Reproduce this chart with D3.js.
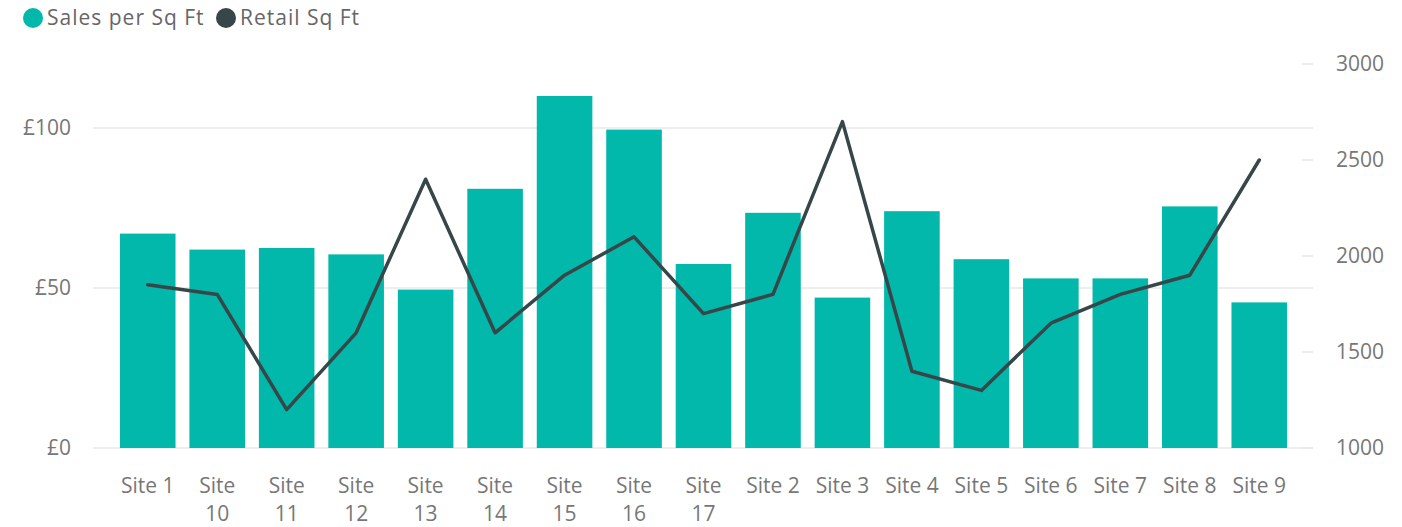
<!doctype html>
<html>
<head>
<meta charset="utf-8">
<style>
    body { margin: 0; background: #fff; }
    text { font-family: "Open Sans", "DejaVu Sans", sans-serif; }
    .bar { fill: #01B8AA; }
</style>
<script src="https://d3js.org/d3.v7.min.js"></script>
</head>
<body>
<svg width="1402" height="527"></svg>
<script>
    // data
    var sites = ["Site 1", "Site 10", "Site 11", "Site 12", "Site 13", "Site 14", "Site 15", "Site 16",
                 "Site 17", "Site 2", "Site 3", "Site 4", "Site 5", "Site 6", "Site 7", "Site 8", "Site 9"];
    var salesPerSqFt = [67, 62, 62.5, 60.5, 49.5, 81, 110, 99.5, 57.5, 73.5, 47, 74, 59, 53, 53, 75.5, 45.5];
    var retailSqFt = [1850, 1800, 1200, 1600, 2400, 1600, 1900, 2100, 1700, 1800, 2700, 1400, 1300, 1650, 1800, 1900, 2500];
    var leftTicks = [0, 50, 100];
    var rightTicks = [1000, 1500, 2000, 2500, 3000];
    var seriesNames = ["Sales per Sq Ft", "Retail Sq Ft"];
    var seriesColors = ["#01B8AA", "#374649"];

    var svg = d3.select("svg");
    var fontSize = 21;

    var x = d3.scaleBand().domain(sites).range([113, 1294]).paddingInner(0.2).paddingOuter(0.1);
    var yL = d3.scaleLinear().domain([0, 120]).range([448, 64]);
    var yR = d3.scaleLinear().domain([1000, 3000]).range([448, 64]);

    // gridlines for left axis
    svg.append("g").selectAll("line")
        .data(leftTicks)
        .enter().append("line")
        .attr("x1", 93).attr("x2", 1313)
        .attr("y1", function(d) { return yL(d); })
        .attr("y2", function(d) { return yL(d); })
        .attr("stroke", "#e8e8e8")
        .attr("stroke-width", 1.6);

    // left axis labels
    svg.append("g").selectAll("text")
        .data(leftTicks)
        .enter().append("text")
        .attr("x", 71)
        .attr("y", function(d) { return yL(d); })
        .attr("dy", "0.35em")
        .attr("text-anchor", "end")
        .attr("font-size", fontSize)
        .attr("fill", "#777")
        .text(function(d) { return "£" + d; });

    // right axis: small ticks + labels
    var ra = svg.append("g");
    ra.selectAll("line")
        .data(rightTicks)
        .enter().append("line")
        .attr("x1", 1302).attr("x2", 1313)
        .attr("y1", function(d) { return yR(d); })
        .attr("y2", function(d) { return yR(d); })
        .attr("stroke", "#e8e8e8")
        .attr("stroke-width", 1.6);
    ra.selectAll("text")
        .data(rightTicks)
        .enter().append("text")
        .attr("x", 1336)
        .attr("y", function(d) { return yR(d); })
        .attr("dy", "0.35em")
        .attr("font-size", fontSize)
        .attr("fill", "#777")
        .text(function(d) { return d; });

    // bars
    svg.append("g").selectAll(".bar")
        .data(sites)
        .enter().append("rect")
        .attr("class", "bar")
        .attr("x", function(d) { return x(d); })
        .attr("width", x.bandwidth())
        .attr("y", function(d, i) { return yL(salesPerSqFt[i]); })
        .attr("height", function(d, i) { return yL(0) - yL(salesPerSqFt[i]); });

    // line
    var line = d3.line()
        .x(function(d, i) { return x(sites[i]) + x.bandwidth() / 2; })
        .y(function(d) { return yR(d); });

    svg.append("path")
        .datum(retailSqFt)
        .attr("d", line)
        .attr("fill", "none")
        .attr("stroke", seriesColors[1])
        .attr("stroke-width", 3.5)
        .attr("stroke-linejoin", "round")
        .attr("stroke-linecap", "round");

    // category labels, wrapped when too wide for the band
    var xl = svg.append("g").selectAll("text")
        .data(sites)
        .enter().append("text")
        .attr("x", function(d) { return x(d) + x.bandwidth() / 2; })
        .attr("y", 486)
        .attr("dy", "0.35em")
        .attr("text-anchor", "middle")
        .attr("font-size", fontSize)
        .attr("fill", "#777")
        .text(function(d) { return d; });

    xl.each(function(d) {
        var t = d3.select(this);
        if (this.getComputedTextLength() > x.step() - 8) {
            var words = d.split(" ");
            var cx = t.attr("x");
            t.text(null);
            words.forEach(function(w, k) {
                t.append("tspan").attr("x", cx).attr("y", 486 + k * 28).attr("dy", "0.35em").text(w);
            });
        }
    });

    // legend
    var lg = svg.append("g");
    var lx = [33, 226];
    seriesNames.forEach(function(name, i) {
        lg.append("circle")
            .attr("cx", lx[i]).attr("cy", 18).attr("r", 10)
            .attr("fill", seriesColors[i]);
        lg.append("text")
            .attr("x", lx[i] + 14).attr("y", 18)
            .attr("dy", "0.35em")
            .attr("font-size", fontSize)
            .attr("letter-spacing", 1)
            .attr("fill", "#666")
            .text(name);
    });
</script>
</body>
</html>
